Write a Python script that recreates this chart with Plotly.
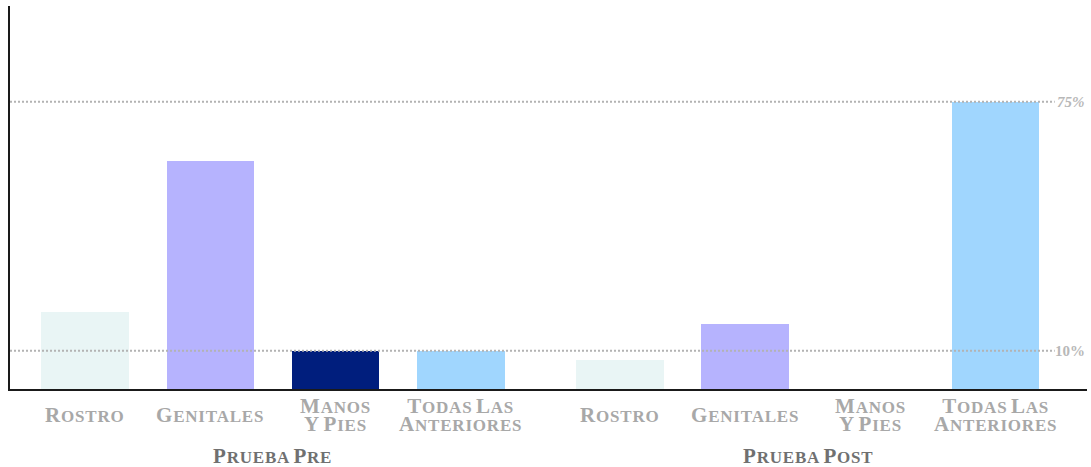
import plotly.graph_objects as go

# ---- data ----
groups = ["Prueba Pre", "Prueba Post"]
categories = ["Rostro", "Genitales", "Manos<br>y Pies", "Todas las<br>Anteriores"]
pre_values = [20, 59.5, 10, 10]
post_values = [7.5, 17, 0, 75]
y_ticks = [10, 75]
y_tick_labels = ["10%", "75%"]

# ---- style ----
colors = ["#e9f5f5", "#b6b3fe", "#001e7d", "#a0d6fe"]
group_offset = 4.27
font_family = "Liberation Serif"
BIG, SMALL = 21, 17


def small_caps(text, big=BIG, small=SMALL, spacing=0.8):
    lines = []
    for line in text.split("<br>"):
        words = []
        for w in line.split(" "):
            if not w:
                continue
            s = f"<span style='font-size:{big}px;letter-spacing:{spacing}px'>{w[0].upper()}</span>"
            if len(w) > 1:
                s += f"<span style='font-size:{small}px;letter-spacing:{spacing}px'>{w[1:].upper()}</span>"
            words.append(s)
        lines.append(" ".join(words))
    return "<b>" + "<br>".join(lines) + "</b>"


x_pre = [i for i in range(len(categories))]
x_post = [i + group_offset for i in range(len(categories))]

fig = go.Figure()
fig.add_trace(go.Bar(
    x=x_pre + x_post,
    y=pre_values + post_values,
    marker=dict(color=colors + colors, line=dict(width=0)),
    width=0.70,
    hoverinfo="y",
    showlegend=False,
))

# dotted gridlines drawn above bars
for yv in y_ticks:
    fig.add_shape(type="line", xref="paper", yref="y", x0=0, x1=0.97, y0=yv, y1=yv,
                  line=dict(color="#b3b3b3", width=2, dash="2px,2px"), layer="above")

# y tick labels at right
for yv, lab in zip(y_ticks, y_tick_labels):
    txt = f"<b><i>{lab}</i></b>" if yv == 75 else f"<b>{lab}</b>"
    fig.add_annotation(x=1, xref="paper", y=yv, yref="y", text=txt, showarrow=False,
                       xanchor="right", yanchor="middle",
                       font=dict(family=font_family, size=15, color="#b8b8b8"))

# category labels
for xs in (x_pre, x_post):
    for xv, cat in zip(xs, categories):
        fig.add_annotation(x=xv, xref="x", y=0, yref="paper", yshift=-26,
                           text=small_caps(cat), showarrow=False,
                           xanchor="center", yanchor="middle",
                           font=dict(family=font_family, size=14, color="#a8a8a8"))

# group labels
for xs, g in zip((x_pre, x_post), groups):
    fig.add_annotation(x=(xs[0] + xs[-1]) / 2, xref="x", y=0, yref="paper", yshift=-67,
                       text=small_caps(g), showarrow=False,
                       xanchor="center", yanchor="middle",
                       font=dict(family=font_family, size=13, color="#707070"))

fig.update_layout(
    width=1091, height=467,
    margin=dict(l=10, r=4, t=6, b=78),
    paper_bgcolor="white", plot_bgcolor="white",
    bargap=0,
    xaxis=dict(range=[-0.6, 8.0], showgrid=False, zeroline=False, showticklabels=False,
               showline=True, linecolor="#1a1a1a", linewidth=2, ticks=""),
    yaxis=dict(range=[0, 100], showgrid=False, zeroline=False, showticklabels=False,
               showline=True, linecolor="#1a1a1a", linewidth=2, ticks=""),
)

fig.write_html("out.html", config={"displayModeBar": False},
               post_script="document.body.style.margin='0';document.body.style.overflow='hidden';")
